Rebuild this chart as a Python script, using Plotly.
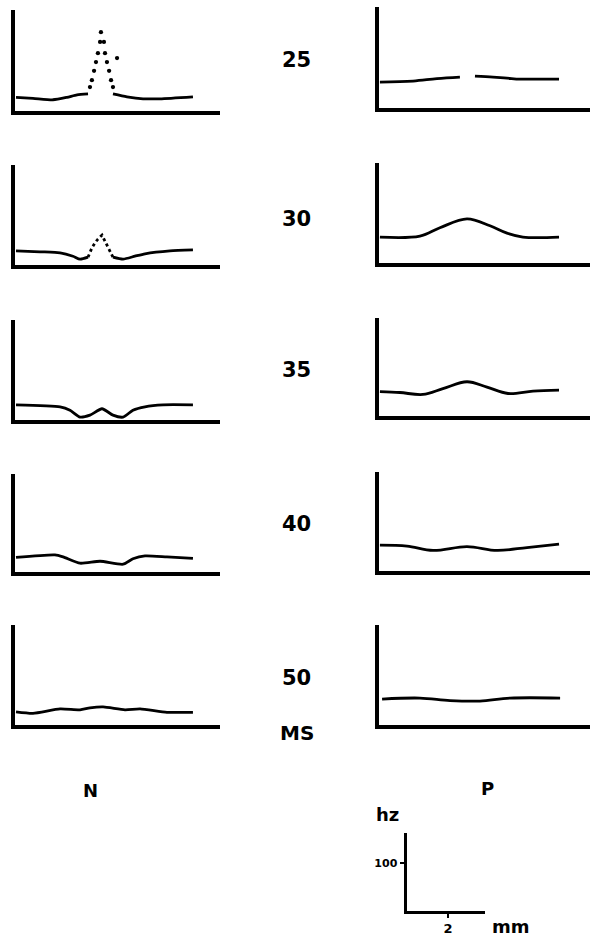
import plotly.graph_objects as go

# ---------------- data (x in mm from response centre, y in hz) ----------------
delays = ["25", "30", "35", "40", "50"]

n25_x = [-4.0, -3.21, -2.28, -1.63, -1.16, -0.65, None, 0.51, 1.16, 1.91, 2.70, 4.23]
n25_hz = [32, 30, 27, 32, 37, 39, None, 39, 33, 29, 29, 33]
n25_dot_x = [-0.56, -0.47, -0.37, -0.28, -0.19, -0.09, -0.05, 0.09, 0.14, 0.23, 0.33, 0.42, 0.51, 0.70]
n25_dot_hz = [53, 67, 86, 104, 122, 145, 165, 145, 122, 104, 86, 67, 53, 112]

p25_x = [-4.05, -2.51, -1.40, -0.33, None, 0.37, 1.21, 1.86, 2.47, 3.40, 4.28]
p25_hz = [57, 59, 64, 67, None, 69, 67, 65, 63, 63, 63]

n30_x = [-4.0, -2.88, -1.95, -1.35, -1.02, -0.65, None, 0.51, 0.98, 1.53, 2.0, 3.16, 4.23]
n30_hz = [33, 31, 29, 22, 16, 20, None, 20, 16, 22, 27, 33, 35]
n30_dot_x = [-0.65, -0.47, -0.33, -0.19, 0.0, 0.09, 0.23, 0.37, 0.51]
n30_dot_hz = [20, 39, 49, 57, 65, 57, 45, 31, 20]

p30_x = [-4.05, -2.19, -1.26, 0.0, 1.07, 1.86, 2.60, 4.28]
p30_hz = [57, 59, 76, 94, 80, 65, 57, 57]

n35_x = [-4.0, -1.95, -1.49, -1.02, -0.56, 0.0, 0.51, 0.98, 1.44, 2.0, 2.84, 4.23]
n35_hz = [35, 31, 24, 10, 14, 27, 14, 10, 24, 31, 35, 35]

p35_x = [-4.05, -3.12, -2.05, -1.12, 0.0, 0.93, 1.91, 3.07, 4.28]
p35_hz = [54, 52, 48, 60, 74, 63, 50, 55, 57]

n40_x = [-4.0, -2.19, -1.81, -1.02, -0.09, 0.98, 1.44, 2.0, 3.02, 4.23]
n40_hz = [34, 39, 35, 22, 26, 20, 31, 37, 35, 32]

p40_x = [-4.05, -2.79, -1.58, 0.0, 1.40, 2.79, 4.28]
p40_hz = [57, 55, 46, 54, 46, 52, 59]

n50_x = [-4.0, -3.21, -1.95, -1.02, -0.56, 0.05, 1.07, 1.77, 3.02, 4.23]
n50_hz = [31, 28, 37, 35, 39, 41, 35, 37, 30, 30]

p50_x = [-3.95, -2.19, -0.79, 0.60, 2.0, 4.33]
p50_hz = [57, 59, 54, 53, 59, 59]

scale_x_tick = [2]
scale_y_tick = [100]

# ---------------- geometry (pixels) ----------------
W, H = 590, 937
PX_MM = 21.5
PX_HZ = 0.49
AXW = 4

# (top, base) per row for N and P columns
n_rows = [(10, 113), (165, 267), (320, 422), (474, 574), (625, 727)]
p_rows = [(7, 110), (163, 265), (318, 418), (472, 573), (625, 727)]
n_col = dict(axis=13, right=220, centre=102, smooth=0.6)
p_col = dict(axis=377, right=590, centre=467, smooth=1.0)

n_data = [(n25_x, n25_hz), (n30_x, n30_hz), (n35_x, n35_hz), (n40_x, n40_hz), (n50_x, n50_hz)]
p_data = [(p25_x, p25_hz), (p30_x, p30_hz), (p35_x, p35_hz), (p40_x, p40_hz), (p50_x, p50_hz)]
n_dots = {0: (n25_dot_x, n25_dot_hz, "markers"), 1: (n30_dot_x, n30_dot_hz, "dot")}

fig = go.Figure()
layout = {}
idx = 0


def add_panel(col, rowgeom, xs, ys, dots=None):
    global idx
    idx += 1
    k = "" if idx == 1 else str(idx)
    top, base = rowgeom
    left_px = col["axis"] + AXW / 2
    bot_px = base - AXW / 2
    layout["xaxis" + k] = dict(
        domain=[left_px / W, min(col["right"], W) / W],
        range=[(left_px - col["centre"]) / PX_MM, (col["right"] - col["centre"]) / PX_MM],
        anchor="y" + k, showline=True, linecolor="black", linewidth=AXW,
        showgrid=False, zeroline=False, showticklabels=False, ticks="")
    layout["yaxis" + k] = dict(
        domain=[1 - bot_px / H, 1 - top / H],
        range=[(base - bot_px) / PX_HZ, (base - top) / PX_HZ],
        anchor="x" + k, showline=True, linecolor="black", linewidth=AXW,
        showgrid=False, zeroline=False, showticklabels=False, ticks="")
    fig.add_trace(go.Scatter(x=xs, y=ys, mode="lines",
                             line=dict(color="black", width=2.8, shape="spline", smoothing=col["smooth"]),
                             xaxis="x" + k, yaxis="y" + k, showlegend=False, hoverinfo="skip"))
    if dots:
        dx, dy, kind = dots
        if kind == "markers":
            fig.add_trace(go.Scatter(x=dx, y=dy, mode="markers", marker=dict(color="black", size=4.3),
                                     xaxis="x" + k, yaxis="y" + k, showlegend=False, hoverinfo="skip"))
        else:
            fig.add_trace(go.Scatter(x=dx, y=dy, mode="lines", line=dict(color="black", width=2.8, dash="dot"),
                                     xaxis="x" + k, yaxis="y" + k, showlegend=False, hoverinfo="skip"))


for i in range(5):
    add_panel(n_col, n_rows[i], *n_data[i], dots=n_dots.get(i))
    add_panel(p_col, p_rows[i], *p_data[i])

# scale bar subplot
idx += 1
k = str(idx)
sb_axis_x, sb_right, sb_top, sb_base = 405, 485, 833, 912
SBW = 3
layout["xaxis" + k] = dict(
    domain=[(sb_axis_x + SBW / 2) / W, sb_right / W],
    range=[(SBW / 2) / PX_MM, (sb_right - sb_axis_x) / PX_MM],
    anchor="y" + k, showline=True, linecolor="black", linewidth=SBW,
    showgrid=False, zeroline=False, tickvals=scale_x_tick, ticktext=[str(v) for v in scale_x_tick],
    ticks="outside", ticklen=4, tickwidth=2, tickcolor="black",
    tickfont=dict(family="DejaVu Sans", size=13, color="black", weight="bold"))
layout["yaxis" + k] = dict(
    domain=[1 - (sb_base - SBW / 2) / H, 1 - sb_top / H],
    range=[(SBW / 2) / PX_HZ, (sb_base - sb_top) / PX_HZ],
    anchor="x" + k, showline=True, linecolor="black", linewidth=SBW,
    showgrid=False, zeroline=False, tickvals=scale_y_tick, ticktext=[str(v) for v in scale_y_tick],
    ticks="outside", ticklen=4, tickwidth=2, tickcolor="black",
    tickfont=dict(family="DejaVu Sans", size=11, color="black", weight="bold"))
fig.add_trace(go.Scatter(x=[None], y=[None], mode="lines", xaxis="x" + k, yaxis="y" + k,
                         showlegend=False, hoverinfo="skip"))

# ---------------- text ----------------
lab_font = dict(family="DejaVu Sans", size=21, color="black", weight="bold")
label_pos = [(297, 60), (297, 219), (297, 370), (297, 524), (297, 678)]
annotations = []
for t, (x, y) in zip(delays, label_pos):
    annotations.append(dict(text=t, x=x / W, y=1 - y / H, xref="paper", yref="paper",
                            showarrow=False, font=lab_font, xanchor="center", yanchor="middle"))
for t, (x, y), sz in [("MS", (297, 733), 20), ("N", (90, 790), 18), ("P", (487, 788), 18),
                      ("hz", (387, 814), 18), ("mm", (511, 926), 18)]:
    annotations.append(dict(text=t, x=x / W, y=1 - y / H, xref="paper", yref="paper",
                            showarrow=False, font=dict(lab_font, size=sz), xanchor="center", yanchor="middle"))

layout.update(dict(width=W, height=H, margin=dict(l=0, r=0, t=0, b=0),
                   paper_bgcolor="white", plot_bgcolor="white", annotations=annotations))
fig.update_layout(**layout)
fig.write_html("out.html", config=dict(displayModeBar=False))
